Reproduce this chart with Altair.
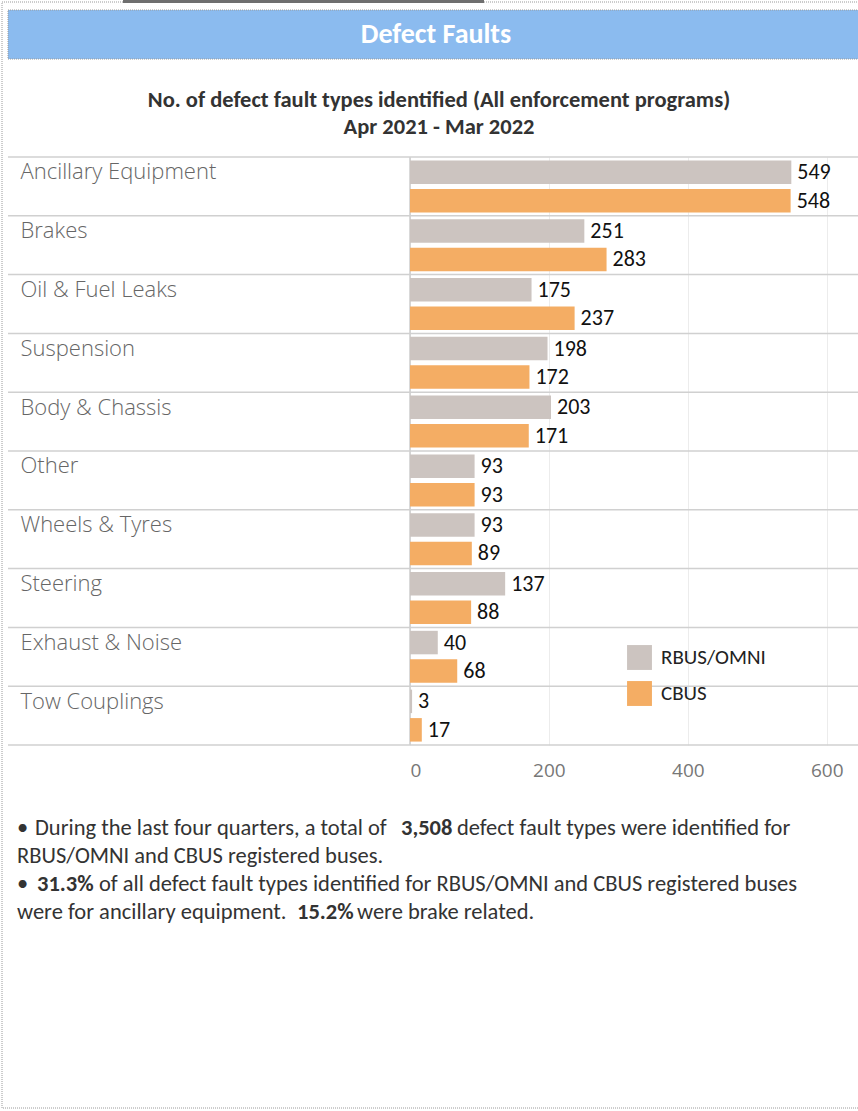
import altair as alt
import pandas as pd

categories = ["Ancillary Equipment", "Brakes", "Oil & Fuel Leaks", "Suspension",
              "Body & Chassis", "Other", "Wheels & Tyres", "Steering",
              "Exhaust & Noise", "Tow Couplings"]
rbus = [549, 251, 175, 198, 203, 93, 93, 137, 40, 3]
cbus = [548, 283, 237, 172, 171, 93, 89, 88, 68, 17]
series = ["RBUS/OMNI", "CBUS"]
colors = ["#CCC4C0", "#F4AD64"]
x_ticks = [0, 200, 400, 600]

header = "Defect Faults"
title_lines = ["No. of defect fault types identified (All enforcement programs)",
               "Apr 2021 - Mar 2022"]

BODY_FONT = "Carlito, Lato"
LABEL_FONT = "Open Sans"

rows = []
for c, a, b in zip(categories, rbus, cbus):
    rows.append({"cat": c, "series": series[0], "value": a})
    rows.append({"cat": c, "series": series[1], "value": b})
df = pd.DataFrame(rows)

W, H = 448, 588

xscale = alt.Scale(domain=[0, 645], nice=False)
yscale = alt.Scale(domain=categories, paddingInner=0, paddingOuter=0)
yoff_scale = alt.Scale(domain=series, paddingInner=0.175, paddingOuter=0.12)

bars = alt.Chart(df).mark_bar().encode(
    x=alt.X("value:Q", scale=xscale,
            axis=alt.Axis(values=x_ticks, title=None, grid=True, gridColor="#ececec",
                          domain=False, ticks=False, labelFontSize=19, labelFlush=True,
                          labelColor="#777777", labelFont=LABEL_FONT, labelPadding=16)),
    y=alt.Y("cat:N", scale=yscale, sort=categories,
            axis=alt.Axis(title=None, domain=False, ticks=False, tickSize=0, grid=False,
                          labelAlign="left", labelPadding=390, labelBaseline="alphabetic",
                          labelOffset=-7, labelFontSize=22, labelFont=LABEL_FONT,
                          labelFontWeight=300, labelColor="#666666", labelLimit=385)),
    yOffset=alt.YOffset("series:N", scale=yoff_scale, sort=series),
    color=alt.Color("series:N", sort=series,
                    scale=alt.Scale(domain=series, range=colors),
                    legend=alt.Legend(title=None, orient="none", legendX=217, legendY=488,
                                      symbolType="square", symbolSize=620,
                                      symbolStrokeWidth=0, labelFontSize=21,
                                      labelFont=BODY_FONT, labelColor="#222222",
                                      labelOffset=9, rowPadding=11, padding=0)),
)

labels = alt.Chart(df).mark_text(align="left", baseline="middle", dx=6, fontSize=22,
                                 font=BODY_FONT, color="#111111").encode(
    x=alt.X("value:Q", scale=xscale),
    y=alt.Y("cat:N", scale=yscale, sort=categories),
    yOffset=alt.YOffset("series:N", scale=yoff_scale, sort=series),
    text="value:Q",
)

sep_df = pd.DataFrame({"cat": categories})
separators = alt.Chart(sep_df).mark_rule(color="#d0d0d0", strokeWidth=1.5).encode(
    y=alt.Y("cat:N", scale=yscale, sort=categories, bandPosition=0),
    x=alt.value(-402), x2=alt.value(448),
)
one = pd.DataFrame({"t": [header]})
bottom_rule = alt.Chart(one).mark_rule(color="#d0d0d0", strokeWidth=1.5).encode(
    y=alt.value(H), x=alt.value(-402), x2=alt.value(448),
)
zero_rule = alt.Chart(pd.DataFrame({"v": [0]})).mark_rule(color="#cccccc", strokeWidth=1.5).encode(
    x=alt.X("v:Q", scale=xscale), y=alt.value(0), y2=alt.value(H),
)

# decorations: page border, header banner, titles
border = alt.Chart(one).mark_rect(fill="white", fillOpacity=0, stroke="#9a9a9a",
                                  strokeWidth=1, strokeDash=[1, 1]).encode(
    x=alt.value(-408), x2=alt.value(452), y=alt.value(-155), y2=alt.value(951))
topbar = alt.Chart(one).mark_rect(fill="#6f6f6f").encode(
    x=alt.value(-287), x2=alt.value(74), y=alt.value(-157), y2=alt.value(-154))
banner = alt.Chart(one).mark_rect(fill="#8BBBEF", stroke="#9a9a9a", strokeWidth=1,
                                  strokeDash=[1, 1]).encode(
    x=alt.value(-402), x2=alt.value(452), y=alt.value(-147), y2=alt.value(-98))
banner_text = alt.Chart(one).mark_text(font=BODY_FONT, fontSize=28, fontWeight="bold",
                                       color="white", align="center", baseline="middle").encode(
    x=alt.value(26), y=alt.value(-122), text=alt.value(header))

title_layers = []
for line, yy in zip(title_lines, [-57, -30]):
    title_layers.append(alt.Chart(one).mark_text(
        font=BODY_FONT, fontSize=22.5, fontWeight="bold", color="#333333",
        align="center", baseline="middle").encode(
        x=alt.value(29), y=alt.value(yy), text=alt.value(line)))

# bullet notes (text, weight, x, y)
note_segments = [
    ("\u2022", "normal", -393, 671),
    ("During the last four quarters, a total of", "normal", -375, 671),
    ("3,508", "bold", -9, 671),
    ("defect fault types were identified for", "normal", 47, 671),
    ("RBUS/OMNI and CBUS registered buses.", "normal", -393, 699),
    ("\u2022", "normal", -393, 727),
    ("31.3%", "bold", -373, 727),
    ("of all defect fault types identified for RBUS/OMNI and CBUS registered buses", "normal", -311, 727),
    ("were for ancillary equipment.", "normal", -393, 755),
    ("15.2%", "bold", -113, 755),
    ("were brake related.", "normal", -53, 755),
]
note_layers = []
for t, w, xx, yy in note_segments:
    note_layers.append(alt.Chart(one).mark_text(
        font=BODY_FONT, fontSize=22.5, fontWeight=w, color="#333333",
        align="left", baseline="middle").encode(
        x=alt.value(xx), y=alt.value(yy), text=alt.value(t)))

chart = alt.layer(
    border, topbar, banner, banner_text, *title_layers,
    zero_rule, bars, labels, separators, bottom_rule,
    *note_layers,
).properties(
    width=W, height=H,
    padding={"left": 410, "top": 157, "right": 0, "bottom": 366},
    autosize=alt.AutoSizeParams(type="none"),
).configure_view(stroke=None)

chart.save("out.html", embed_options={"renderer": "svg", "actions": False})
